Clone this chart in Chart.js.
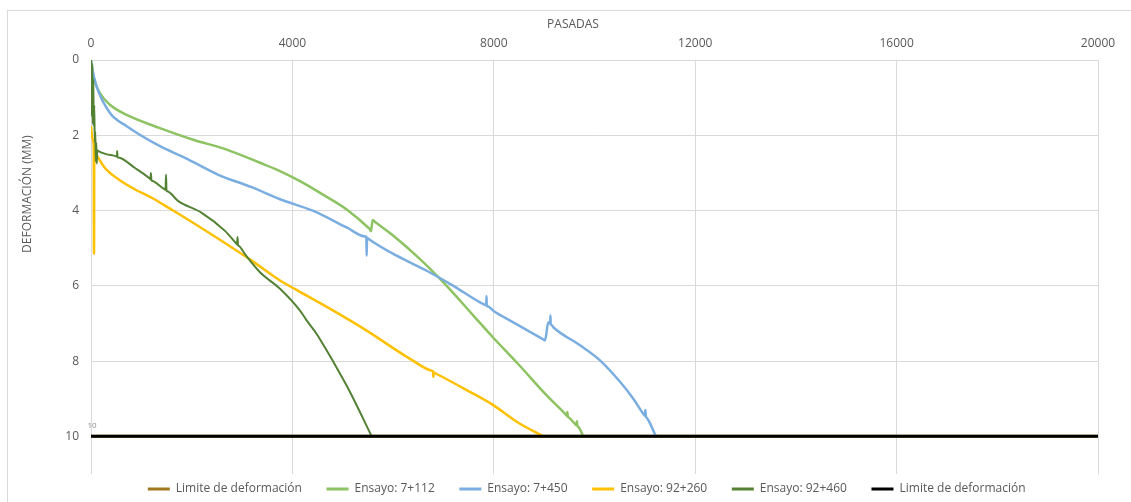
<!DOCTYPE html>
<html>
<head>
<meta charset="utf-8">
<script src="https://cdn.jsdelivr.net/npm/chart.js@4.4.1/dist/chart.umd.min.js"></script>
<style>
  html, body { margin: 0; padding: 0; background: #fff; }
</style>
</head>
<body>
<canvas id="deformChart" width="1131" height="502"></canvas>
<script>
// Limite de deformación (10 mm)
var limitePasadas = [0, 20000];
var limiteDef = [10, 10];

// Ensayo: 7+112
var pas7112 = [0, 10, 46, 179, 377, 709, 1370, 2032, 2694, 3356, 3754, 4151, 4548, 5078, 5520, 5541, 5560, 5594, 5620, 6005, 6535, 7064, 7594, 7990, 8388, 8520, 9050, 9430, 9450, 9460, 9470, 9490, 9620, 9640, 9650, 9660, 9680, 9778];
var def7112 = [0, 0.1, 0.44, 0.88, 1.19, 1.46, 1.81, 2.12, 2.38, 2.73, 2.95, 3.22, 3.53, 3.97, 4.47, 4.5, 4.55, 4.25, 4.28, 4.67, 5.29, 6.0, 6.79, 7.38, 7.94, 8.13, 8.91, 9.42, 9.45, 9.35, 9.47, 9.5, 9.68, 9.7, 9.6, 9.72, 9.75, 10.0];

// Ensayo: 7+450
var pas7450 = [0, 20, 113, 377, 709, 1370, 1867, 2529, 3191, 3754, 4415, 5078, 5450, 5468, 5475, 5482, 5500, 6071, 6667, 7197, 7726, 7835, 7850, 7855, 7860, 7875, 7990, 8388, 8990, 9017, 9083, 9110, 9120, 9125, 9130, 9145, 9182, 9712, 10109, 10507, 10771, 10985, 11000, 11010, 11020, 11035, 11221];
var def7450 = [0, 0.2, 0.71, 1.41, 1.76, 2.29, 2.6, 3.05, 3.38, 3.7, 4.01, 4.45, 4.69, 4.7, 5.2, 4.72, 4.74, 5.2, 5.6, 6.0, 6.44, 6.51, 6.52, 6.28, 6.53, 6.54, 6.66, 6.97, 7.43, 7.45, 6.97, 6.99, 7.0, 6.79, 7.02, 7.04, 7.1, 7.58, 7.98, 8.55, 9.0, 9.43, 9.45, 9.3, 9.47, 9.5, 10.0];

// Ensayo: 92+260
var pas92260 = [0, 30, 55, 60, 65, 80, 146, 278, 543, 874, 1205, 1570, 1867, 2529, 3191, 3754, 4151, 4813, 5475, 6336, 6780, 6795, 6800, 6805, 6820, 7461, 7990, 8454, 8984];
var def92260 = [1.76, 2.1, 2.3, 5.15, 2.4, 2.45, 2.6, 2.87, 3.17, 3.44, 3.66, 3.95, 4.19, 4.75, 5.33, 5.86, 6.16, 6.66, 7.19, 7.94, 8.26, 8.28, 8.42, 8.3, 8.31, 8.77, 9.17, 9.61, 10.0];

// Ensayo: 92+460
var pas92460 = [0, 15, 25, 35, 45, 55, 65, 75, 85, 95, 105, 115, 125, 146, 300, 500, 515, 520, 525, 540, 874, 1165, 1180, 1190, 1200, 1215, 1465, 1480, 1490, 1500, 1515, 1734, 2198, 2661, 2880, 2900, 2910, 2920, 2935, 3058, 3356, 3754, 4151, 4283, 4482, 4548, 4813, 5144, 5575];
var def92460 = [0, 1.5, 0.1, 1.7, 0.5, 1.76, 1.2, 2.2, 1.9, 2.7, 2.2, 2.75, 2.4, 2.42, 2.5, 2.56, 2.57, 2.42, 2.58, 2.59, 2.87, 3.15, 3.17, 3.0, 3.19, 3.21, 3.44, 3.45, 3.05, 3.47, 3.49, 3.75, 4.06, 4.54, 4.87, 4.9, 4.7, 4.92, 4.94, 5.16, 5.64, 6.08, 6.66, 6.92, 7.28, 7.42, 8.02, 8.82, 10.0];

var xTicks = [0, 4000, 8000, 12000, 16000, 20000];
var yTicks = [0, 2, 4, 6, 8, 10];

function toPoints(xs, ys) {
    return xs.map(function(x, i) { return { x: x, y: ys[i] }; });
}

var textColor = '#595959';
var fontFamily = "'Open Sans', 'Liberation Sans', sans-serif";

// border, axis titles and the small "10" label
var extras = {
    id: 'extras',
    beforeDraw: function(chart) {
        var c = chart.ctx;
        c.save();
        c.fillStyle = '#fff';
        c.fillRect(0, 0, chart.width, chart.height);
        c.strokeStyle = '#d9d9d9';
        c.lineWidth = 1;
        c.strokeRect(7.5, 10.5, 1300, 700);
        c.restore();
    },
    afterDraw: function(chart) {
        var c = chart.ctx;
        c.save();
        c.fillStyle = textColor;
        c.font = '12px ' + fontFamily;
        c.textAlign = 'center';
        c.textBaseline = 'middle';
        c.fillText('PASADAS', 573, 25);
        c.translate(28, 194);
        c.rotate(-Math.PI / 2);
        c.fillText('DEFORMACIÓN (MM)', 0, 0);
        c.restore();

        var pt = chart.getDatasetMeta(0).data[0];
        c.save();
        c.fillStyle = '#8c8c8c';
        c.font = '8px ' + fontFamily;
        c.textAlign = 'center';
        c.textBaseline = 'middle';
        c.fillText(String(limiteDef[0]), pt.x + 1, pt.y - 11);
        c.restore();
    }
};

var ctx = document.getElementById('deformChart');

var config = {
    type: 'line',
    data: {
        datasets: [{
            label: 'Limite de deformación',
            data: toPoints(limitePasadas, limiteDef),
            borderColor: '#a0781e',
            borderWidth: 3,
            order: 5
        }, {
            label: 'Ensayo: 7+112',
            data: toPoints(pas7112, def7112),
            borderColor: '#8dc363',
            borderWidth: 2.5,
            cubicInterpolationMode: 'monotone',
            order: 4
        }, {
            label: 'Ensayo: 7+450',
            data: toPoints(pas7450, def7450),
            borderColor: '#7aaee0',
            borderWidth: 2.5,
            cubicInterpolationMode: 'monotone',
            order: 3
        }, {
            label: 'Ensayo: 92+260',
            data: toPoints(pas92260, def92260),
            borderColor: '#ffc000',
            borderWidth: 2.5,
            cubicInterpolationMode: 'monotone',
            order: 2
        }, {
            label: 'Ensayo: 92+460',
            data: toPoints(pas92460, def92460),
            borderColor: '#548235',
            borderWidth: 2,
            cubicInterpolationMode: 'monotone',
            order: 1
        }, {
            label: 'Limite de deformación',
            data: toPoints(limitePasadas, limiteDef),
            borderColor: '#000000',
            borderWidth: 3,
            order: 0
        }]
    },
    options: {
        responsive: false,
        animation: false,
        events: [],
        layout: { padding: { left: 0, right: 33, top: 0, bottom: -3 } },
        elements: {
            point: { radius: 0 },
            line: { tension: 0, fill: false }
        },
        scales: {
            x: {
                type: 'linear',
                position: 'top',
                min: xTicks[0],
                max: xTicks[xTicks.length - 1],
                afterBuildTicks: function(scale) {
                    scale.ticks = xTicks.map(function(v) { return { value: v }; });
                },
                afterFit: function(scale) { scale.height = 60; },
                ticks: {
                    color: textColor,
                    font: { family: fontFamily, size: 12 },
                    padding: 9,
                    maxRotation: 0,
                    callback: function(v) { return String(v); }
                },
                grid: { color: '#d9d9d9', drawTicks: false },
                border: { display: false }
            },
            y: {
                type: 'linear',
                reverse: true,
                min: 0,
                max: 11,
                afterBuildTicks: function(scale) {
                    scale.ticks = yTicks.map(function(v) { return { value: v }; });
                },
                afterFit: function(scale) { scale.width = 91; },
                ticks: {
                    color: textColor,
                    font: { family: fontFamily, size: 12 },
                    padding: 12
                },
                grid: { color: '#d9d9d9', drawTicks: false },
                border: { display: false }
            }
        },
        plugins: {
            tooltip: { enabled: false },
            legend: {
                position: 'bottom',
                fullSize: false,
                labels: {
                    color: textColor,
                    font: { family: fontFamily, size: 12 },
                    usePointStyle: true,
                    pointStyle: 'line',
                    pointStyleWidth: 22,
                    padding: 9,
                    generateLabels: function(chart) {
                        var items = Chart.defaults.plugins.legend.labels.generateLabels(chart);
                        items.forEach(function(it) {
                            it.text = it.text + '     ';
                            it.lineWidth = 3;
                        });
                        return items;
                    },
                    sort: function(a, b) { return a.datasetIndex - b.datasetIndex; }
                }
            }
        }
    },
    plugins: [extras]
};

var deformChart = new Chart(ctx, config);
</script>
</body>
</html>
